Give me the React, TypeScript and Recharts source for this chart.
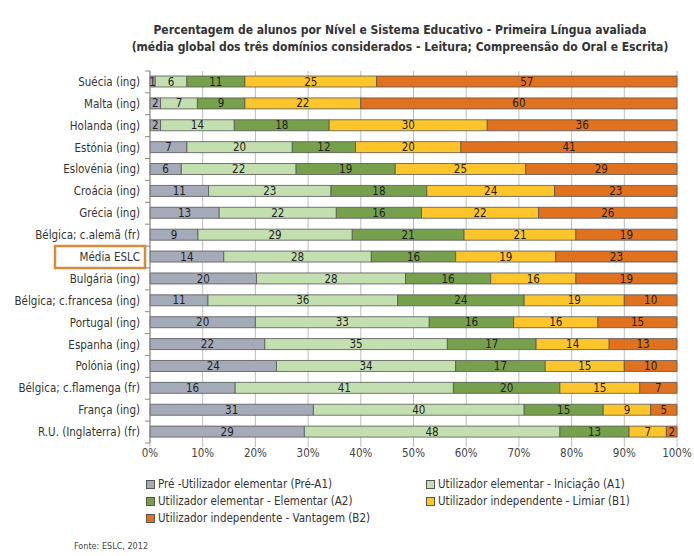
import React from 'react'
import { BarChart, Bar, XAxis, YAxis, CartesianGrid, LabelList } from 'recharts'

const countries = [
  'Suécia (ing)',
  'Malta (ing)',
  'Holanda (ing)',
  'Estónia (ing)',
  'Eslovénia (ing)',
  'Croácia (ing)',
  'Grécia (ing)',
  'Bélgica; c.alemã (fr)',
  'Média ESLC',
  'Bulgária (ing)',
  'Bélgica; c.francesa (ing)',
  'Portugal (ing)',
  'Espanha (ing)',
  'Polónia (ing)',
  'Bélgica; c.flamenga (fr)',
  'França (ing)',
  'R.U. (Inglaterra) (fr)',
]

const preA1 = [1, 2, 2, 7, 6, 11, 13, 9, 14, 20, 11, 20, 22, 24, 16, 31, 29]
const a1 = [6, 7, 14, 20, 22, 23, 22, 29, 28, 28, 36, 33, 35, 34, 41, 40, 48]
const a2 = [11, 9, 18, 12, 19, 18, 16, 21, 16, 16, 24, 16, 17, 17, 20, 15, 13]
const b1 = [25, 22, 30, 20, 25, 24, 22, 21, 19, 16, 19, 16, 14, 15, 15, 9, 7]
const b2 = [57, 60, 36, 41, 29, 23, 26, 19, 23, 19, 10, 15, 13, 10, 7, 5, 2]

const xTicks = [0, 0.1, 0.2, 0.3, 0.4, 0.5, 0.6, 0.7, 0.8, 0.9, 1]

const levels = [
  { key: 'preA1', name: 'Pré -Utilizador elementar (Pré-A1)', color: '#a5aab8' },
  { key: 'a1', name: 'Utilizador elementar - Iniciação (A1)', color: '#c3deaf' },
  { key: 'a2', name: 'Utilizador elementar - Elementar (A2)', color: '#76a04c' },
  { key: 'b1', name: 'Utilizador independente  - Limiar (B1)', color: '#fcc52b' },
  { key: 'b2', name: 'Utilizador independente  - Vantagem (B2)', color: '#e0711f' },
]

const data = countries.map((country, i) => ({
  country,
  preA1: preA1[i],
  a1: a1[i],
  a2: a2[i],
  b1: b1[i],
  b2: b2[i],
}))

const FONT = "'Liberation Sans Narrow', 'DejaVu Sans Condensed', sans-serif"
const CHART_H = 475
const TOP = 71
const PLOT_BOTTOM = 443
const ROW = (PLOT_BOTTOM - TOP) / countries.length

const CountryTick = (props: any) => {
  const { x, y, payload, index } = props
  const boxed = payload.value === 'Média ESLC'
  return (
    <g>
      <line x1={x - 5} x2={x} y1={y - ROW / 2} y2={y - ROW / 2} stroke="#888" />
      {index === countries.length - 1 && (
        <line x1={x - 5} x2={x} y1={y + ROW / 2} y2={y + ROW / 2} stroke="#888" />
      )}
      {boxed && (
        <rect x={x - 95} y={y - 11} width={90} height={22} fill="none" stroke="#d98a3a" strokeWidth={2.5} />
      )}
      <text x={x - 10} y={y} dy={4} textAnchor="end" fontSize={11.5} fontFamily={FONT} fill="#333">
        {payload.value}
      </text>
    </g>
  )
}

export default function App() {
  return (
    <div style={{ position: 'absolute', left: 0, top: 0, width: 694, height: 556, background: '#fff', fontFamily: FONT }}>
      <div style={{ position: 'absolute', top: 22, left: 110, width: 580, textAlign: 'center', fontSize: 12, fontWeight: 'bold', color: '#333', lineHeight: '17px' }}>
        <div>Percentagem de alunos  por Nível e Sistema Educativo  - Primeira Língua  avaliada</div>
        <div>(média global  dos três domínios considerados  - Leitura; Compreensão do Oral e Escrita)</div>
      </div>

      <BarChart
        width={694}
        height={CHART_H}
        data={data}
        layout="vertical"
        stackOffset="expand"
        barSize={11}
        margin={{ top: TOP, right: 17, bottom: 2, left: 0 }}
      >
        <CartesianGrid horizontal={false} stroke="#bdbdbd" />
        <XAxis
          type="number"
          domain={[0, 1]}
          ticks={xTicks}
          tickFormatter={(v: number) => `${Math.round(v * 100)}%`}
          axisLine={false}
          tickLine={{ stroke: '#bdbdbd' }}
          tickSize={4}
          height={30}
          tick={{ fontSize: 11.5, fill: '#444', fontFamily: FONT }}
        />
        <YAxis
          type="category"
          dataKey="country"
          width={150}
          axisLine={{ stroke: '#888' }}
          tickLine={false}
          tickSize={0}
          tickMargin={0}
          interval={0}
          tick={<CountryTick />}
        />
        {levels.map((lv) => (
          <Bar
            key={lv.key}
            dataKey={lv.key}
            name={lv.name}
            stackId="s"
            fill={lv.color}
            stroke="#555"
            strokeWidth={0.8}
            isAnimationActive={false}
          >
            <LabelList dataKey={lv.key} position="center" fill="#222" fontSize={11.5} fontFamily={FONT} />
          </Bar>
        ))}
      </BarChart>

      {/* legend, two columns */}
      <div style={{ position: 'absolute', top: 477, left: 146, width: 540, fontSize: 11.5, color: '#333' }}>
        {levels.map((lv, i) => (
          <div
            key={lv.key}
            style={{
              position: 'absolute',
              left: i % 2 === 0 ? 0 : 280,
              top: Math.floor(i / 2) * 17,
              display: 'flex',
              alignItems: 'center',
              whiteSpace: 'nowrap',
            }}
          >
            <span style={{ display: 'inline-block', width: 7, height: 7, background: lv.color, border: '1px solid #555', marginRight: 3 }} />
            {lv.name}
          </div>
        ))}
      </div>

      <div style={{ position: 'absolute', top: 541, left: 74, fontSize: 9, color: '#444' }}>Fonte: ESLC, 2012</div>
    </div>
  )
}
